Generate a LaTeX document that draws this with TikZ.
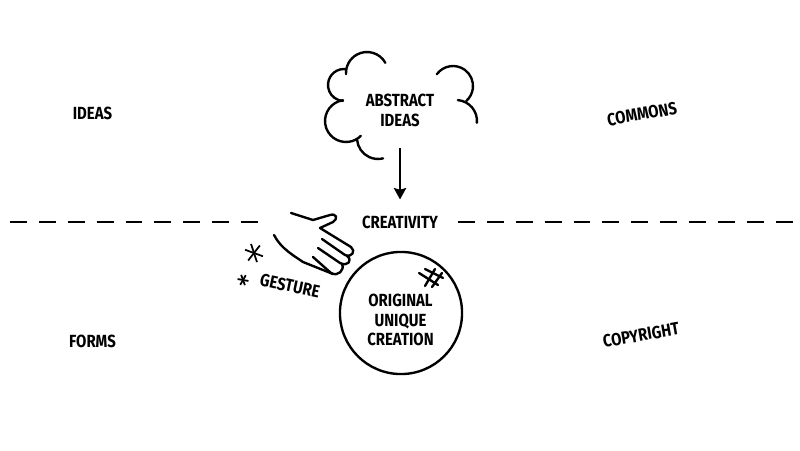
\documentclass[tikz,border=0pt]{standalone}
\usepackage{fontspec}
\setmainfont{Fira Sans}[FakeStretch=0.85]
\usetikzlibrary{positioning}
\usetikzlibrary{arrows.meta}
\tikzset{
  tag/.style   = {font=\bfseries\fontsize{10pt}{11.3pt}\selectfont, align=center, inner sep=0pt},
  ink/.style   = {line width=1.35pt, line cap=round, line join=round},
  cut/.style   = {line width=1.35pt, dash pattern=on 9.64pt off 6.8pt},
  point/.style = {-{Stealth[length=6.5pt,width=7pt,inset=1pt]}, line width=1.35pt}
}

\begin{document}
\begin{tikzpicture}[x=0.02cm, y=-0.02cm]
  \useasboundingbox (0,0) rectangle (800,450);
  \node [tag] (abstract) at (400,110) {ABSTRACT\\IDEAS};
  \node [tag] (creativity) at (400,222) {CREATIVITY};
  \node [tag] (ideas) at (92.5,113) {IDEAS};
  \node [tag] (forms) [below=122.5pt of ideas] {FORMS};
  \node [tag, rotate=10] (commons) at (642,114) {COMMONS};
  \node [tag, rotate=10] (copyright) at (641,335) {COPYRIGHT};
  \node [tag, rotate=-12] (gesture) at (290,286) {GESTURE};
  \node [draw, circle, line width=1.35pt, minimum size=69.5pt, inner sep=0pt] (creation) at (401,313) {};
  \node [tag] (creationtext) at (400.5,320) {ORIGINAL\\UNIQUE\\CREATION};
  \coordinate (drop) at (400,148);
  \coordinate (cutleft) at (10,222);
  \coordinate (cutleftend) at (259,222);
  \coordinate (cutright) at (458,222);
  \coordinate (cutrightend) at (795,222);
  \coordinate (sparkbig) at (254,253);
  \coordinate (sparksmall) at (243,280);
  % cloud
  \draw [ink] (367,73) ++(-29:21) arc [start angle=-29, end angle=-183, radius=21];
  \draw [ink] (344,85) ++(-83:16) arc [start angle=-83, end angle=-266, radius=16];
  \draw [ink] (346,121) ++(-98:21) arc [start angle=-98, end angle=-315, radius=21];
  \draw [ink] (378,138) ++(175:21) arc [start angle=175, end angle=76, radius=21];
  \draw [ink] (453,86) ++(-144:20) arc [start angle=-144, end angle=49, radius=20];
  \draw [ink] (456,121) ++(-85:21) arc [start angle=-85, end angle=5, radius=21];
  \draw [point] (drop) -- (creativity.north) [shorten >=9pt];
  \draw [cut] (cutleft) -- (cutleftend);
  \draw [cut] (cutright) -- (cutrightend);
  % hand
  \draw [ink] (291,213) -- (313,220) -- (330,215) .. controls (337,213) and (338,219) .. (333,222)
     -- (320,228) -- (351,247) .. controls (356,251) and (352,258) .. (345,255) -- (322,239);
  \draw [ink] (347,256) .. controls (353,260) and (348,267) .. (340,263) -- (318,248);
  \draw [ink] (342,264) .. controls (345,270) and (338,277) .. (331,273) -- (313,257);
  \draw [ink] (274,235) .. controls (281,249) and (296,257) .. (303,262) -- (333,274);
  % sparks
  \foreach \ang in {20,72,128} {
    \draw [line width=1pt] (sparkbig) ++(\ang:9.5) -- ++(\ang+180:19);
  }
  \foreach \ang in {10,70,120} {
    \draw [line width=1pt] (sparksmall) ++(\ang:5.5) -- ++(\ang+180:11);
  }
  % scratch
  \draw [ink] (419,273) -- (438,285);
  \draw [ink] (425,269) -- (443,278);
  \draw [ink] (435,269) -- (425,286);
  \draw [ink] (442,273) -- (432,287);
\end{tikzpicture}
\end{document}
